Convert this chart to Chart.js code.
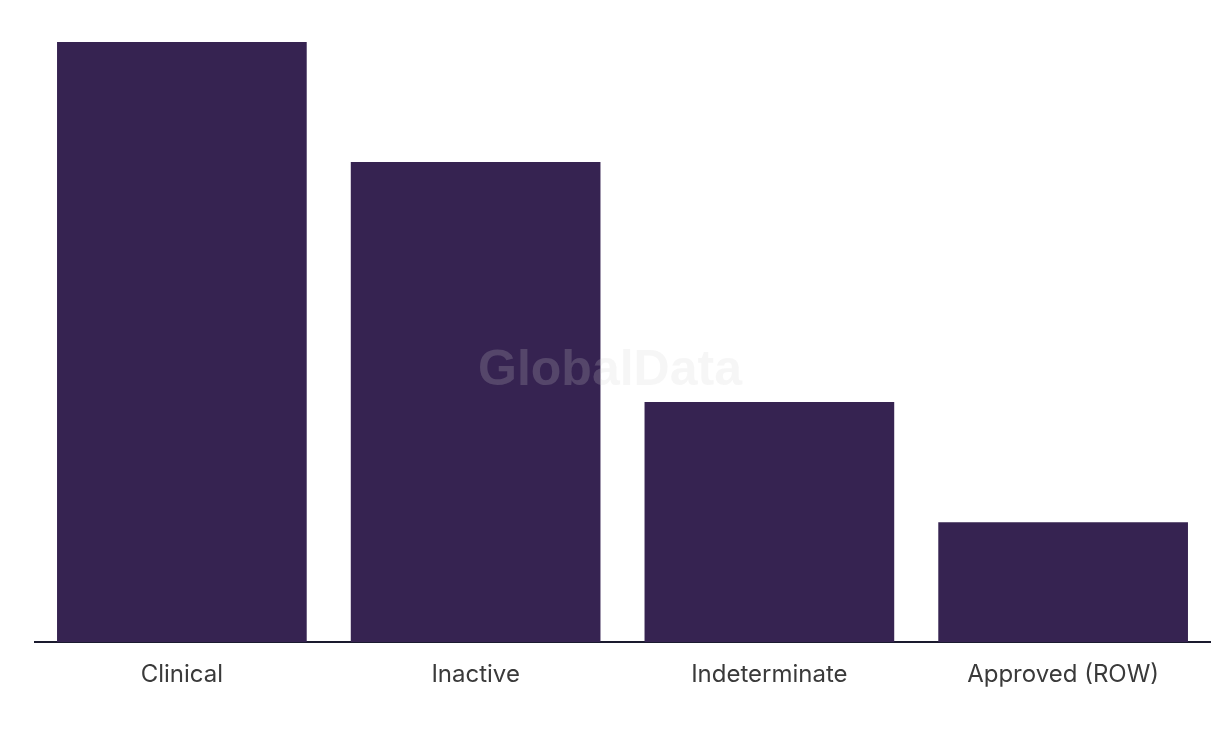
<!DOCTYPE html>
<html lang="en">
<head>
    <meta charset="utf-8">
    <title>Chart</title>
    <script src="https://cdn.jsdelivr.net/npm/chart.js"></script>
    <style>
        html, body { margin: 0; padding: 0; background: #fff; }
        .chart-container { position: relative; width: 1220px; height: 736px; }
    </style>
</head>
<body>
    <div class="chart-container">
        <canvas id="myChart"></canvas>
    </div>
    <script>
        // data
        const categories = ['Clinical', 'Inactive', 'Indeterminate', 'Approved (ROW)'];
        const values = [5, 4, 2, 1];

        // watermark in the middle
        const watermark = {
            id: 'watermark',
            afterDatasetsDraw(chart) {
                const ctx = chart.ctx;
                ctx.save();
                ctx.font = 'bold 50px "Liberation Sans", Arial, sans-serif';
                ctx.fillStyle = 'rgba(210, 210, 210, 0.2)';
                ctx.textAlign = 'center';
                ctx.textBaseline = 'alphabetic';
                ctx.fillText('GlobalData', 610, 385);
                ctx.restore();
            }
        };

        new Chart(document.getElementById('myChart'), {
            type: 'bar',
            data: {
                labels: categories,
                datasets: [{
                    data: values,
                    backgroundColor: '#362351',
                    barPercentage: 0.85,
                    categoryPercentage: 1
                }]
            },
            options: {
                responsive: true,
                maintainAspectRatio: false,
                animation: false,
                layout: {
                    padding: { top: 42, left: 35, right: 10, bottom: 29 }
                },
                plugins: {
                    legend: { display: false },
                    tooltip: { enabled: false }
                },
                scales: {
                    x: {
                        grid: { display: false, drawTicks: false },
                        border: { color: '#1a1a2e', width: 2 },
                        ticks: {
                            padding: 18,
                            color: '#3a3a3a',
                            font: { family: 'Inter, "Noto Sans", sans-serif', size: 24, weight: 400 }
                        }
                    },
                    y: {
                        display: false,
                        min: 0,
                        max: 5
                    }
                }
            },
            plugins: [watermark]
        });
    </script>
</body>
</html>
